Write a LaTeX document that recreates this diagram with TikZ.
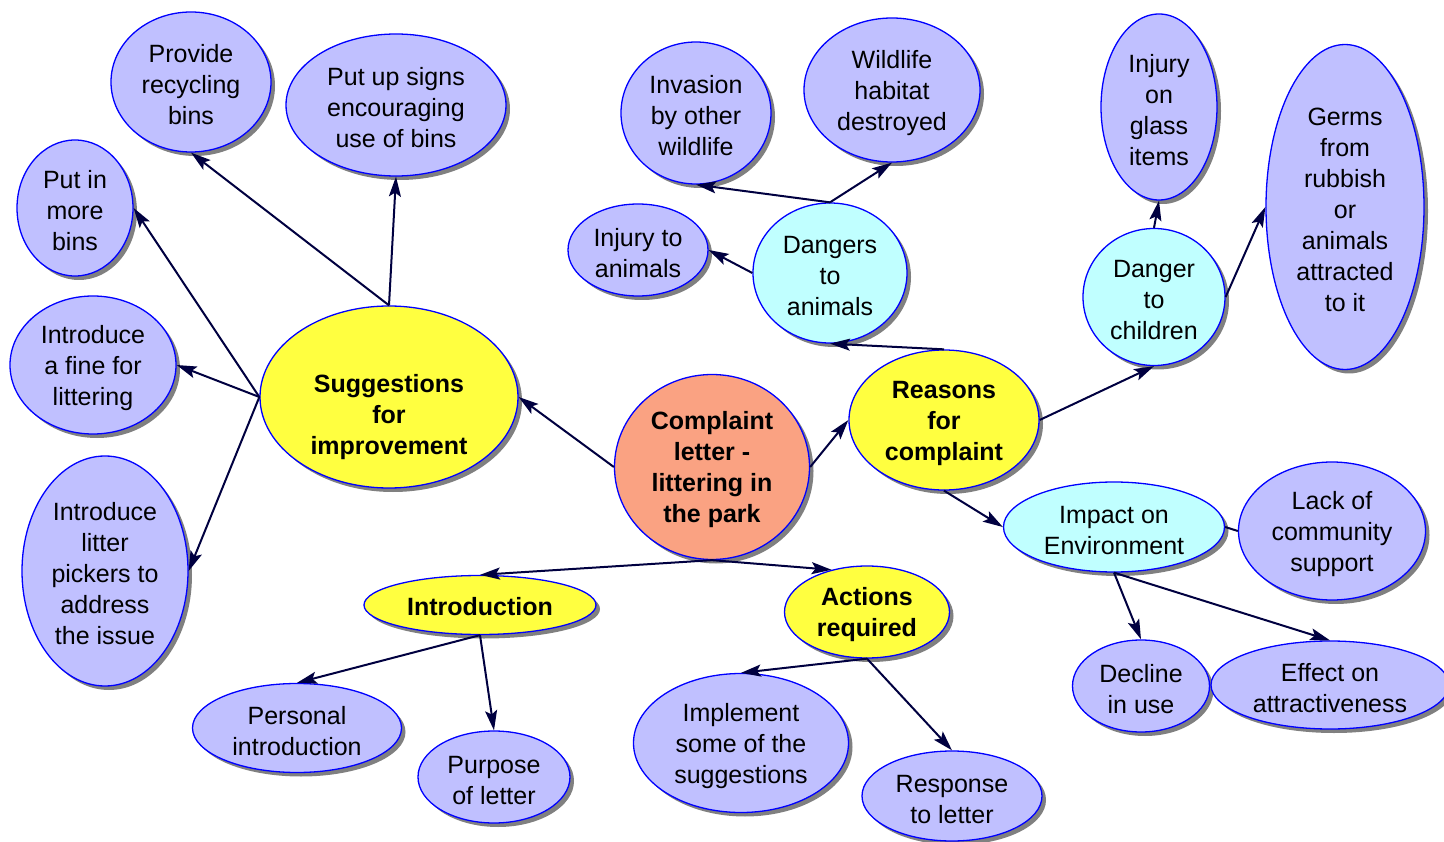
\documentclass[tikz,border=0pt]{standalone}
\usepackage{fontspec}
\setmainfont{Liberation Sans}
\usetikzlibrary{shapes.geometric,arrows.meta,shadows}
\definecolor{lav}{RGB}{192,192,255}
\definecolor{cyn}{RGB}{192,255,255}
\definecolor{yel}{RGB}{255,255,64}
\definecolor{sal}{RGB}{250,162,130}
\definecolor{bord}{RGB}{0,0,255}
\definecolor{navy}{RGB}{0,0,64}
\definecolor{shd}{RGB}{128,128,128}
\newcommand{\tup}[1][23.5pt]{\rule{0pt}{#1}}
\begin{document}
\begin{tikzpicture}[x=1pt,y=-1pt,
  bub/.style={ellipse,draw=bord,line width=1.3pt,inner sep=0pt,align=center,
    font=\fontsize{25}{31}\selectfont,
    drop shadow={shadow xshift=4pt,shadow yshift=-4pt,fill=shd,opacity=1}},
  lavb/.style={bub,fill=lav},
  cynb/.style={bub,fill=cyn},
  yelb/.style={bub,fill=yel,font=\bfseries\fontsize{25}{31}\selectfont},
  salb/.style={bub,fill=sal,font=\bfseries\fontsize{25}{31}\selectfont},
  sz/.style 2 args={minimum width=#1pt,minimum height=#2pt},
  link/.style={draw=navy,line width=2pt,-{Stealth[length=20pt,width=12pt,inset=4pt]}},
  plain/.style={draw=navy,line width=2pt}
]
\useasboundingbox[fill=white] (0,0) rectangle (1444,842);

\node[lavb,sz={160}{140}] (prov) at (191,82) {\tup Provide\\recycling\\bins};
\node[lavb,sz={220}{142}] (signs) at (396,105) {\tup Put up signs\\encouraging\\use of bins};
\node[lavb,sz={116}{136}] (more) at (75,208) {\tup Put in\\more\\bins};
\node[lavb,sz={166}{138}] (fine) at (93,365) {\tup Introduce\\a fine for\\littering};
\node[lavb,sz={166}{230}] (litter) at (105,571) {\tup Introduce\\litter\\pickers to\\address\\the issue};
\node[yelb,sz={258}{182}] (sugg) at (389,397) {\tup[58pt]Suggestions\\for\\improvement};
\node[salb,sz={195}{185}] (comp) at (712,467) {\tup Complaint\\letter -\\littering in\\the park};
\node[lavb,sz={150}{142}] (inv) at (696,113) {\tup Invasion\\by other\\wildlife};
\node[lavb,sz={176}{144}] (wild) at (892,90) {\tup Wildlife\\habitat\\destroyed};
\node[lavb,sz={140}{92}] (inj) at (638,250) {\tup Injury to\\animals};
\node[cynb,sz={154}{140}] (dang) at (830,273) {\tup Dangers\\to\\animals};
\node[lavb,sz={116}{186}] (glass) at (1159,107) {\tup Injury\\on\\glass\\items};
\node[lavb,sz={158}{325}] (germs) at (1345,207) {\tup Germs\\from\\rubbish\\or\\animals\\attracted\\to it};
\node[cynb,sz={142}{137}] (dchild) at (1154,297) {\tup Danger\\to\\children};
\node[yelb,sz={190}{140}] (reas) at (944,420) {\tup Reasons\\for\\complaint};
\node[cynb,sz={221}{90}] (imp) at (1114,527) {\tup Impact on\\Environment};
\node[lavb,sz={187}{138}] (lack) at (1332,531) {\tup Lack of\\community\\support};
\node[lavb,sz={137}{92}] (decl) at (1141,686) {\tup Decline\\in use};
\node[lavb,sz={238}{88}] (eff) at (1330,685) {\tup Effect on\\attractiveness};
\node[yelb,sz={232}{59}] (intro) at (480,605) {\tup[21pt]Introduction};
\node[yelb,sz={165}{92}] (act) at (867,612) {\tup Actions\\required};
\node[lavb,sz={209}{89}] (pers) at (297,728) {\tup Personal\\introduction};
\node[lavb,sz={152}{92}] (purp) at (494,777) {\tup Purpose\\of letter};
\node[lavb,sz={215}{139}] (impl) at (741,743) {\tup Implement\\some of the\\suggestions};
\node[lavb,sz={180}{90}] (resp) at (952,796) {\tup Response\\to letter};

% connectors
\draw[link] (comp.west) -- (sugg.east);
\draw[link] (comp.east) -- (reas.west);
\draw[link] (comp.south) -- (intro.north);
\draw[link] (comp.south) -- (act.130);
\draw[link] (sugg.north) -- (prov.south);
\draw[link] (sugg.north) -- (signs.south);
\draw[link] (sugg.west) -- (more.east);
\draw[link] (sugg.west) -- (fine.east);
\draw[link] (sugg.west) -- (litter.east);
\draw[link] (reas.north) -- (dang.south);
\draw[link] (dang.north) -- (inv.south);
\draw[link] (dang.north) -- (wild.south);
\draw[link] (dang.west) -- (inj.east);
\draw[link] (reas.east) -- (dchild.south);
\draw[link] (dchild.north) -- (glass.south);
\draw[link] (dchild.east) -- (germs.west);
\draw[link] (reas.south) -- (imp.west);
\draw[plain] (imp.east) -- (lack.west);
\draw[link] (imp.south) -- (decl.north);
\draw[link] (imp.south) -- (eff.north);
\draw[link] (intro.south) -- (pers.north);
\draw[link] (intro.south) -- (purp.north);
\draw[link] (act.south) -- (impl.north);
\draw[link] (act.south) -- (resp.north);
\end{tikzpicture}
\end{document}
